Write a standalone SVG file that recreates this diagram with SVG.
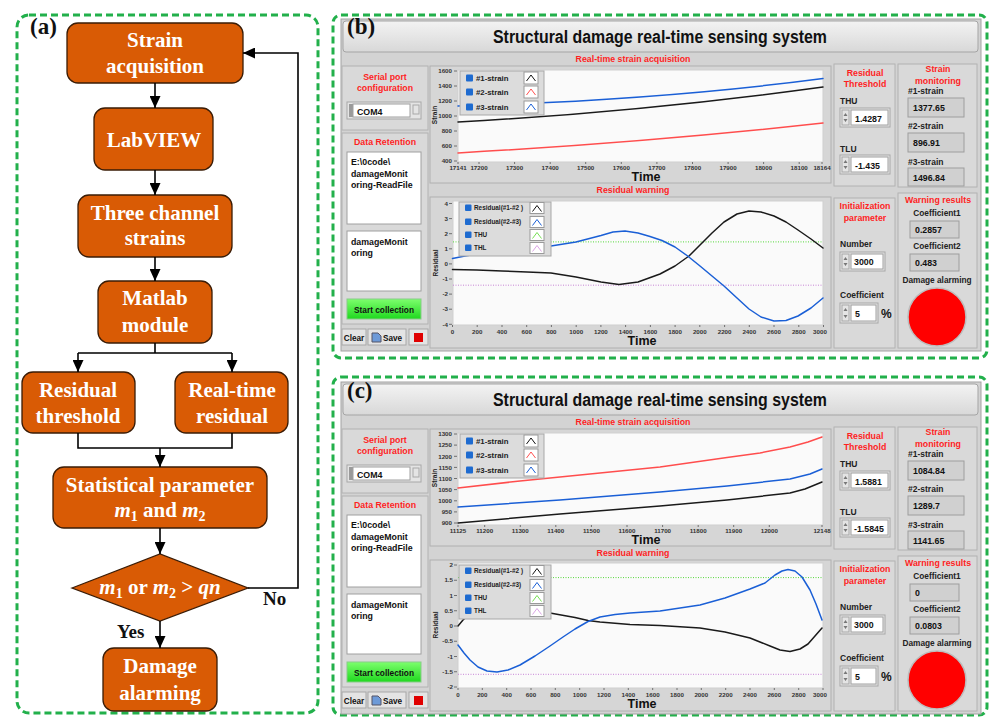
<svg xmlns="http://www.w3.org/2000/svg" width="989" height="718" viewBox="0 0 989 718">
<defs>
<style>
.dash{fill:none;stroke:#22b04b;stroke-width:3;stroke-dasharray:7 4}
.fc{fill:#d95b05;stroke:#3a1c06;stroke-width:1.3}
.ft{font-family:"Liberation Serif","Times New Roman",serif;font-weight:bold;font-size:21px;fill:#fff;text-anchor:middle}
.pl{font-family:"Liberation Serif","Times New Roman",serif;font-weight:bold;font-size:23px;fill:#111}
.yn{font-family:"Liberation Serif","Times New Roman",serif;font-weight:bold;font-size:19px;fill:#111}
.win{fill:#d3d3d3;stroke:#a3a3a3}
.sec{fill:#d9d9d9;stroke:#b2b2b2}
.red{fill:#ff1f1f;font-size:8.8px;text-anchor:middle}
.lb{fill:#222;font-size:8.5px}
.lbm{fill:#222;font-size:8.3px;text-anchor:middle}
.v{fill:#111;font-size:8.8px}
.tx{fill:#333;font-size:6.2px;text-anchor:middle}
.ty{fill:#333;font-size:6.2px;text-anchor:end}
.ax{fill:#222;font-size:6.5px;text-anchor:middle}
.time{fill:#111;font-size:12.5px;text-anchor:middle}
.plot{fill:#fafafa;stroke:#cfcfcf}
.chf{fill:#d6d6d6;stroke:#b0b0b0}
.ind{fill:#d0d0d0;stroke:#9e9e9e}
.ctl{fill:#e4e4e4;stroke:#a8a8a8}
.fld{fill:#fff;stroke:#a0a0a0}
.lgb{fill:#dcdcdc;stroke:#a8a8a8}
.cb{fill:#1e6bd0}
.smp{fill:#fff;stroke:#9a9a9a}
.lg{fill:#222;font-size:7.8px}
.lg2{fill:#222;font-size:6.4px}
.cv{fill:none;stroke-width:1.5;stroke-linejoin:round;stroke-linecap:round}
.tick{stroke:#555;stroke-width:0.8;fill:none}
.arr{fill:#777}
</style>
<marker id="ah" markerUnits="userSpaceOnUse" markerWidth="12" markerHeight="11" refX="12" refY="5.5" orient="auto"><path d="M0,0 L12,5.5 L0,11 z" fill="#000"/></marker>
<linearGradient id="tg" x1="0" y1="0" x2="0" y2="1"><stop offset="0" stop-color="#f3f3f3"/><stop offset="1" stop-color="#d8d8d8"/></linearGradient>
<linearGradient id="gg" x1="0" y1="0" x2="0" y2="1"><stop offset="0" stop-color="#7dff6d"/><stop offset="1" stop-color="#1fd81f"/></linearGradient>
</defs>
<rect width="989" height="718" fill="#fff"/>

<!-- ================= Panel (a) flowchart ================= -->
<g id="panel-a">
<rect class="dash" x="17" y="15" width="301" height="698" rx="12"/>
<text class="pl" x="30" y="34">(a)</text>
</g>
<g id="n-strain-acq"><rect class="fc" x="67" y="23" width="176" height="60" rx="11"/><text class="ft" x="155" y="47">Strain</text><text class="ft" x="155" y="73">acquisition</text></g>
<g id="n-labview"><rect class="fc" x="94" y="108" width="119" height="62" rx="11"/><text class="ft" x="154" y="147">LabVIEW</text></g>
<g id="n-three"><rect class="fc" x="78" y="195" width="154" height="62" rx="11"/><text class="ft" x="155" y="220">Three channel</text><text class="ft" x="155" y="245">strains</text></g>
<g id="n-matlab"><rect class="fc" x="98" y="281" width="114" height="62" rx="11"/><text class="ft" x="155" y="305">Matlab</text><text class="ft" x="155" y="332">module</text></g>
<g id="n-resth"><rect class="fc" x="22" y="372" width="113" height="61" rx="11"/><text class="ft" x="78" y="397">Residual</text><text class="ft" x="78" y="423">threshold</text></g>
<g id="n-rtres"><rect class="fc" x="175" y="372" width="113" height="61" rx="11"/><text class="ft" x="232" y="397">Real-time</text><text class="ft" x="232" y="423">residual</text></g>
<g id="n-stat"><rect class="fc" x="53" y="467" width="214" height="61" rx="11"/><text class="ft" x="160" y="492">Statistical parameter</text><text class="ft" x="160" y="517"><tspan font-style="italic">m</tspan><tspan font-size="14" dy="4">1</tspan><tspan dy="-4"> and </tspan><tspan font-style="italic">m</tspan><tspan font-size="14" dy="4">2</tspan></text></g>
<g id="n-decision"><polygon class="fc" points="72,588 160,554 248,588 160,621"/><text class="ft" x="160" y="594"><tspan font-style="italic">m</tspan><tspan font-size="14" dy="4">1</tspan><tspan dy="-4"> or </tspan><tspan font-style="italic">m</tspan><tspan font-size="14" dy="4">2</tspan><tspan dy="-4"> &gt; </tspan><tspan font-style="italic">qn</tspan></text></g>
<g id="n-damage"><rect class="fc" x="103" y="648" width="114" height="63" rx="11"/><text class="ft" x="160" y="673">Damage</text><text class="ft" x="160" y="700">alarming</text></g>

<g id="connectors" fill="none" stroke="#000" stroke-width="1.6">
<line x1="155" y1="83" x2="155" y2="108" marker-end="url(#ah)"/>
<line x1="155" y1="170" x2="155" y2="195" marker-end="url(#ah)"/>
<line x1="155" y1="257" x2="155" y2="281" marker-end="url(#ah)"/>
<path d="M155,343 V353 M78,353 H232"/>
<line x1="78" y1="353" x2="78" y2="372" marker-end="url(#ah)"/>
<line x1="232" y1="353" x2="232" y2="372" marker-end="url(#ah)"/>
<path d="M78,433 V448 H232 V433"/>
<line x1="160" y1="448" x2="160" y2="467" marker-end="url(#ah)"/>
<line x1="160" y1="528" x2="160" y2="554" marker-end="url(#ah)"/>
<line x1="160" y1="621" x2="160" y2="648" marker-end="url(#ah)"/>
<path d="M248,588 H298 V53 H243" marker-end="url(#ah)"/>
</g>
<text class="yn" x="263" y="605">No</text>
<text class="yn" x="117" y="638">Yes</text>

<!-- ================= Panel frames ================= -->
<rect class="dash" x="333" y="15" width="654" height="343" rx="8"/>
<rect class="dash" x="333" y="377" width="654" height="338" rx="8"/>

<!-- ================= Panel (b) ================= -->
<g id="panel-b" font-family="Liberation Sans, Arial, sans-serif" font-weight="bold">
<rect class="win" x="341" y="19" width="640" height="332"/>
<rect x="343" y="21" width="635" height="31" rx="3" fill="url(#tg)" stroke="#a5a5a5"/>
<text x="493" y="43" font-size="18" fill="#111" textLength="334" lengthAdjust="spacingAndGlyphs">Structural damage real-time sensing system</text>
<text class="pl" x="347" y="34" font-weight="bold">(b)</text>
<rect class="sec" x="342" y="66" width="86" height="64"/>
<text class="red" x="385" y="80">Serial port</text>
<text class="red" x="385" y="91">configuration</text>
<rect class="ctl" x="347" y="102" width="74" height="17"/>
<rect x="349" y="104" width="4" height="13" fill="#9a9a9a"/>
<rect class="fld" x="353" y="104" width="57" height="13"/>
<rect class="ctl" x="413" y="105" width="6" height="9"/>
<text class="v" x="357" y="115">COM4</text>
<rect class="sec" x="342" y="133" width="86" height="191"/>
<text class="red" x="385" y="145">Data Retention</text>
<rect class="fld" x="347" y="152" width="74" height="72"/>
<text class="v" x="351" y="165">E:\0code\</text>
<text class="v" x="351" y="177">damageMonit</text>
<text class="v" x="351" y="188">oring-ReadFile</text>
<rect class="fld" x="347" y="231" width="74" height="60"/>
<text class="v" x="351" y="245">damageMonit</text>
<text class="v" x="351" y="256">oring</text>
<rect x="347" y="299" width="74" height="20" fill="url(#gg)" stroke="#8c8"/>
<text x="384" y="313" font-size="8.3" fill="#111" text-anchor="middle">Start collection</text>
<rect class="ctl" x="342" y="329" width="24" height="16"/>
<text x="354" y="340.5" font-size="8.2" fill="#111" text-anchor="middle">Clear</text>
<rect class="ctl" x="368" y="329" width="38" height="16"/>
<path d="M372,333 h6 l3,3 v6 h-9 z" fill="#6d9ad8" stroke="#556"/>
<text x="383" y="341" font-size="8.2" fill="#111">Save</text>
<rect class="ctl" x="409" y="329" width="19" height="16"/>
<rect x="414" y="333" width="9" height="9" fill="#e00000"/>

<text class="red" x="633" y="62">Real-time strain acquisition</text>
<rect class="chf" x="430" y="66" width="401" height="117"/>
<rect class="plot" x="458" y="70" width="365" height="92"/>
<path class="tick" d="M454,71h3M454,86h3M454,101h3M454,116h3M454,131h3M454,146h3M454,161h3M458,162v2M479,162v2M514.6,162v2M550.2,162v2M585.7,162v2M621.3,162v2M656.9,162v2M692.5,162v2M728.1,162v2M763.6,162v2M799.2,162v2M822,162v2"/>
<text class="ty" x="452" y="73.2">1600</text><text class="ty" x="452" y="88.2">1400</text><text class="ty" x="452" y="103.2">1200</text><text class="ty" x="452" y="118.2">1000</text><text class="ty" x="452" y="133.2">800</text><text class="ty" x="452" y="148.2">600</text><text class="ty" x="452" y="163.2">400</text>
<text class="tx" x="458" y="170">17141</text><text class="tx" x="479" y="170">17200</text><text class="tx" x="514.6" y="170">17300</text><text class="tx" x="550.2" y="170">17400</text><text class="tx" x="585.7" y="170">17500</text><text class="tx" x="621.3" y="170">17600</text><text class="tx" x="656.9" y="170">17700</text><text class="tx" x="692.5" y="170">17800</text><text class="tx" x="728.1" y="170">17900</text><text class="tx" x="763.6" y="170">18000</text><text class="tx" x="799.2" y="170">18100</text><text class="tx" x="822" y="170">18164</text>
<text class="ax" transform="translate(437,115) rotate(-90)">Strain</text>
<text class="time" x="646" y="181">Time</text>
<path class="cv" stroke="#1a5fd6" d="M458,106 Q660,100 823,78.5"/>
<path class="cv" stroke="#1a1a1a" d="M458,122 Q640,112 823,87"/>
<path class="cv" stroke="#ff4d4d" d="M458,153 Q650,142 823,123"/>
<rect class="lgb" x="460" y="71" width="84" height="44"/>
<rect class="cb" x="466" y="74.5" width="7" height="7" rx="1"/><text class="lg" x="476" y="81">#1-strain</text><rect class="smp" x="524" y="72" width="14" height="12"/><path d="M526.5,81 L531,75 L535.5,81" fill="none" stroke="#111"/>
<rect class="cb" x="466" y="88.5" width="7" height="7" rx="1"/><text class="lg" x="476" y="95">#2-strain</text><rect class="smp" x="524" y="86" width="14" height="12"/><path d="M526.5,95 L531,89 L535.5,95" fill="none" stroke="#ff5050"/>
<rect class="cb" x="466" y="103.5" width="7" height="7" rx="1"/><text class="lg" x="476" y="110">#3-strain</text><rect class="smp" x="524" y="101" width="14" height="12"/><path d="M526.5,110 L531,104 L535.5,110" fill="none" stroke="#1a5fd6"/>

<text class="red" x="633" y="193">Residual warning</text>
<rect class="chf" x="430" y="197" width="401" height="151"/>
<rect class="plot" x="453" y="201" width="370" height="124"/>
<path class="tick" d="M449,203.5h3M449,218.6h3M449,233.7h3M449,248.8h3M449,263.9h3M449,279h3M449,294.1h3M449,309.2h3M449,324.3h3M452.5,325v2M477.2,325v2M502,325v2M526.7,325v2M551.4,325v2M576.2,325v2M600.9,325v2M625.6,325v2M650.4,325v2M675.1,325v2M699.8,325v2M724.6,325v2M749.3,325v2M774,325v2M798.8,325v2M823.5,325v2"/>
<text class="ty" x="448" y="205.7">4</text><text class="ty" x="448" y="220.8">3</text><text class="ty" x="448" y="235.9">2</text><text class="ty" x="448" y="251">1</text><text class="ty" x="448" y="266.1">0</text><text class="ty" x="448" y="281.2">-1</text><text class="ty" x="448" y="296.3">-2</text><text class="ty" x="448" y="311.4">-3</text><text class="ty" x="448" y="326.5">-4</text>
<text class="tx" x="452.5" y="334">0</text><text class="tx" x="477.2" y="334">200</text><text class="tx" x="502" y="334">400</text><text class="tx" x="526.7" y="334">600</text><text class="tx" x="551.4" y="334">800</text><text class="tx" x="576.2" y="334">1000</text><text class="tx" x="600.9" y="334">1200</text><text class="tx" x="625.6" y="334">1400</text><text class="tx" x="650.4" y="334">1600</text><text class="tx" x="675.1" y="334">1800</text><text class="tx" x="699.8" y="334">2000</text><text class="tx" x="724.6" y="334">2200</text><text class="tx" x="749.3" y="334">2400</text><text class="tx" x="774" y="334">2600</text><text class="tx" x="798.8" y="334">2800</text><text class="tx" x="820" y="334">3000</text>
<text class="ax" transform="translate(438,263) rotate(-90)">Residual</text>
<text class="time" x="642" y="345">Time</text>
<line x1="453" y1="241.9" x2="823" y2="241.9" stroke="#55d83a" stroke-width="1" stroke-dasharray="1 1.5"/>
<line x1="453" y1="285.2" x2="823" y2="285.2" stroke="#c783d6" stroke-width="1" stroke-dasharray="1 1.5"/>
<polyline class="cv" stroke="#1a1a1a" points="452.5,269.5 477,270 502,271 527,272 551,273 576,277 601,282 619,284.5 638,282 660,274 675,266 689,256 700,245 712,233 724,222 737,214 749,211 761,212 774,216 786,222 798,230 811,239 823,248"/>
<polyline class="cv" stroke="#1a5fd6" points="452.5,258.5 465,256 477,254 490,252.5 502,251 514,250 527,248.5 551,246 576,242 601,235.5 613,232 625,231 638,233 650,236.5 662,240.5 675,247 687,255.5 700,266 712,276 724,286 737,298 749,309 761,317 774,321 786,320.5 798,316 811,308 823,298"/>
<rect class="lgb" x="459" y="202" width="92" height="54"/>
<rect class="cb" x="465" y="204.5" width="6.5" height="6.5" rx="1"/><text class="lg2" x="474" y="210.3">Residual(#1-#2 )</text><rect class="smp" x="530" y="202.5" width="14" height="11"/><path d="M532.5,211.5 L537,205.5 L541.5,211.5" fill="none" stroke="#111"/>
<rect class="cb" x="465" y="218.5" width="6.5" height="6.5" rx="1"/><text class="lg2" x="474" y="224.3">Residual(#2-#3)</text><rect class="smp" x="530" y="216.5" width="14" height="11"/><path d="M532.5,225.5 L537,219.5 L541.5,225.5" fill="none" stroke="#1a5fd6"/>
<rect class="cb" x="465" y="231.5" width="6.5" height="6.5" rx="1"/><text class="lg2" x="474" y="237.3">THU</text><rect class="smp" x="530" y="229.5" width="14" height="11"/><path d="M532.5,238.5 L537,232.5 L541.5,238.5" fill="none" stroke="#77e055"/>
<rect class="cb" x="465" y="244.5" width="6.5" height="6.5" rx="1"/><text class="lg2" x="474" y="250.3">THL</text><rect class="smp" x="530" y="242.5" width="14" height="11"/><path d="M532.5,251.5 L537,245.5 L541.5,251.5" fill="none" stroke="#dba6e6"/>

<rect class="sec" x="834" y="64" width="61" height="122"/>
<text class="red" x="865" y="76">Residual</text>
<text class="red" x="865" y="87">Threshold</text>
<text class="lb" x="840" y="104">THU</text>
<rect class="ctl" x="840" y="108" width="50" height="19"/><rect class="ctl" x="842" y="110" width="7" height="15"/><path class="arr" d="M843.5,116 l2,-3 l2,3 z M843.5,119 l2,3 l2,-3 z"/><rect class="fld" x="851" y="110" width="37" height="15"/>
<text class="v" x="855" y="121.5">1.4287</text>
<text class="lb" x="840" y="152">TLU</text>
<rect class="ctl" x="840" y="155" width="50" height="19"/><rect class="ctl" x="842" y="157" width="7" height="15"/><path class="arr" d="M843.5,163 l2,-3 l2,3 z M843.5,166 l2,3 l2,-3 z"/><rect class="fld" x="851" y="157" width="37" height="15"/>
<text class="v" x="855" y="168.5">-1.435</text>
<rect class="sec" x="898" y="64" width="79" height="123"/>
<text class="red" x="938" y="72">Strain</text>
<text class="red" x="938" y="84">monitoring</text>
<text class="lb" x="908" y="94">#1-strain</text>
<rect class="ind" x="908" y="98" width="56" height="19"/>
<text class="v" x="913" y="111">1377.65</text>
<text class="lb" x="908" y="129">#2-strain</text>
<rect class="ind" x="908" y="133" width="56" height="19"/>
<text class="v" x="913" y="146">896.91</text>
<text class="lb" x="908" y="165">#3-strain</text>
<rect class="ind" x="908" y="168" width="56" height="18"/>
<text class="v" x="913" y="181">1496.84</text>

<rect class="sec" x="834" y="198" width="61" height="150"/>
<text class="red" x="865" y="209">Initialization</text>
<text class="red" x="865" y="221">parameter</text>
<text class="lb" x="840" y="247">Number</text>
<rect class="ctl" x="840" y="252" width="45" height="19"/><rect class="ctl" x="842" y="254" width="7" height="15"/><path class="arr" d="M843.5,260 l2,-3 l2,3 z M843.5,263 l2,3 l2,-3 z"/><rect class="fld" x="851" y="254" width="32" height="15"/>
<text class="v" x="854" y="265">3000</text>
<text class="lb" x="840" y="298">Coefficient</text>
<rect class="ctl" x="840" y="303" width="38" height="20"/><rect class="ctl" x="842" y="305" width="7" height="16"/><path class="arr" d="M843.5,311 l2,-3 l2,3 z M843.5,315 l2,3 l2,-3 z"/><rect class="fld" x="851" y="305" width="25" height="16"/>
<text class="v" x="855" y="317">5</text>
<text x="881" y="318" font-size="12" fill="#111">%</text>
<rect class="sec" x="898" y="193" width="79" height="155"/>
<text class="red" x="938" y="203">Warning results</text>
<text class="lbm" x="937" y="216">Coefficient1</text>
<rect class="ind" x="910" y="221" width="49" height="17"/>
<text class="v" x="915" y="233">0.2857</text>
<text class="lbm" x="937" y="249">Coefficient2</text>
<rect class="ind" x="910" y="254" width="49" height="17"/>
<text class="v" x="915" y="266">0.483</text>
<text class="lbm" x="937" y="283" font-size="8.8">Damage alarming</text>
<circle cx="937" cy="317" r="29" fill="#ff0000" stroke="#bdbdbd" stroke-width="1.5"/>
</g>

<!-- ================= Panel (c) ================= -->
<g id="panel-c" font-family="Liberation Sans, Arial, sans-serif" font-weight="bold" transform="translate(0,363)">
<rect class="win" x="341" y="19" width="640" height="332"/>
<rect x="343" y="21" width="635" height="31" rx="3" fill="url(#tg)" stroke="#a5a5a5"/>
<text x="493" y="43" font-size="18" fill="#111" textLength="334" lengthAdjust="spacingAndGlyphs">Structural damage real-time sensing system</text>
<text class="pl" x="347" y="35" font-weight="bold">(c)</text>
<rect class="sec" x="342" y="66" width="86" height="64"/>
<text class="red" x="385" y="80">Serial port</text>
<text class="red" x="385" y="91">configuration</text>
<rect class="ctl" x="347" y="102" width="74" height="17"/>
<rect x="349" y="104" width="4" height="13" fill="#9a9a9a"/>
<rect class="fld" x="353" y="104" width="57" height="13"/>
<rect class="ctl" x="413" y="105" width="6" height="9"/>
<text class="v" x="357" y="115">COM4</text>
<rect class="sec" x="342" y="133" width="86" height="191"/>
<text class="red" x="385" y="145">Data Retention</text>
<rect class="fld" x="347" y="152" width="74" height="72"/>
<text class="v" x="351" y="165">E:\0code\</text>
<text class="v" x="351" y="177">damageMonit</text>
<text class="v" x="351" y="188">oring-ReadFile</text>
<rect class="fld" x="347" y="231" width="74" height="60"/>
<text class="v" x="351" y="245">damageMonit</text>
<text class="v" x="351" y="256">oring</text>
<rect x="347" y="299" width="74" height="20" fill="url(#gg)" stroke="#8c8"/>
<text x="384" y="313" font-size="8.3" fill="#111" text-anchor="middle">Start collection</text>
<rect class="ctl" x="342" y="329" width="24" height="16"/>
<text x="354" y="340.5" font-size="8.2" fill="#111" text-anchor="middle">Clear</text>
<rect class="ctl" x="368" y="329" width="38" height="16"/>
<path d="M372,333 h6 l3,3 v6 h-9 z" fill="#6d9ad8" stroke="#556"/>
<text x="383" y="341" font-size="8.2" fill="#111">Save</text>
<rect class="ctl" x="409" y="329" width="19" height="16"/>
<rect x="414" y="333" width="9" height="9" fill="#e00000"/>

<text class="red" x="633" y="62">Real-time strain acquisition</text>
<rect class="chf" x="430" y="66" width="401" height="117"/>
<rect class="plot" x="458" y="70" width="365" height="92"/>
<path class="tick" d="M454,71h3M454,82.1h3M454,93.3h3M454,104.4h3M454,115.5h3M454,126.6h3M454,137.8h3M454,148.9h3M454,160h3M458,162v2M484.7,162v2M520.3,162v2M555.8,162v2M591.4,162v2M627,162v2M662.6,162v2M698.2,162v2M733.7,162v2M769.3,162v2M822,162v2"/>
<text class="ty" x="452" y="73.2">1300</text><text class="ty" x="452" y="84.3">1250</text><text class="ty" x="452" y="95.5">1200</text><text class="ty" x="452" y="106.6">1150</text><text class="ty" x="452" y="117.7">1100</text><text class="ty" x="452" y="128.8">1050</text><text class="ty" x="452" y="140">1000</text><text class="ty" x="452" y="151.1">950</text><text class="ty" x="452" y="162.2">900</text>
<text class="tx" x="458" y="170">11125</text><text class="tx" x="484.7" y="170">11200</text><text class="tx" x="520.3" y="170">11300</text><text class="tx" x="555.8" y="170">11400</text><text class="tx" x="591.4" y="170">11500</text><text class="tx" x="627" y="170">11600</text><text class="tx" x="662.6" y="170">11700</text><text class="tx" x="698.2" y="170">11800</text><text class="tx" x="733.7" y="170">11900</text><text class="tx" x="769.3" y="170">12000</text><text class="tx" x="822" y="170">12148</text>
<text class="ax" transform="translate(437,115) rotate(-90)">Strain</text>
<text class="time" x="646" y="181">Time</text>
<polyline class="cv" stroke="#ff4d4d" points="458,125 520,118 580,112 660,104 727,94.5 760,90 790,84 808,79 822,74"/>
<polyline class="cv" stroke="#1a5fd6" points="458,144 560,137 660,129 727,123 790,116 810,111 822,106"/>
<polyline class="cv" stroke="#1a1a1a" points="458,160 560,151 660,143 727,137 790,130 805,126 822,119"/>
<rect class="lgb" x="460" y="71" width="84" height="44"/>
<rect class="cb" x="466" y="74.5" width="7" height="7" rx="1"/><text class="lg" x="476" y="81">#1-strain</text><rect class="smp" x="524" y="72" width="14" height="12"/><path d="M526.5,81 L531,75 L535.5,81" fill="none" stroke="#111"/>
<rect class="cb" x="466" y="88.5" width="7" height="7" rx="1"/><text class="lg" x="476" y="95">#2-strain</text><rect class="smp" x="524" y="86" width="14" height="12"/><path d="M526.5,95 L531,89 L535.5,95" fill="none" stroke="#ff5050"/>
<rect class="cb" x="466" y="103.5" width="7" height="7" rx="1"/><text class="lg" x="476" y="110">#3-strain</text><rect class="smp" x="524" y="101" width="14" height="12"/><path d="M526.5,110 L531,104 L535.5,110" fill="none" stroke="#1a5fd6"/>

<text class="red" x="633" y="193">Residual warning</text>
<rect class="chf" x="430" y="197" width="401" height="151"/>
<rect class="plot" x="458" y="200" width="365" height="125"/>
<path class="tick" d="M454,202h3M454,217.25h3M454,232.5h3M454,247.75h3M454,263h3M454,278.25h3M454,293.5h3M454,308.75h3M454,324h3M458,325v2M482.3,325v2M506.7,325v2M531,325v2M555.3,325v2M579.7,325v2M604,325v2M628.3,325v2M652.7,325v2M677,325v2M701.3,325v2M725.7,325v2M750,325v2M774.3,325v2M798.7,325v2M823,325v2"/>
<text class="ty" x="453" y="204.2">2</text><text class="ty" x="453" y="219.4">1.5</text><text class="ty" x="453" y="234.7">1</text><text class="ty" x="453" y="249.9">0.5</text><text class="ty" x="453" y="265.2">0</text><text class="ty" x="453" y="280.4">-0.5</text><text class="ty" x="453" y="295.7">-1</text><text class="ty" x="453" y="310.9">-1.5</text><text class="ty" x="453" y="326.2">-2</text>
<text class="tx" x="458" y="334">0</text><text class="tx" x="482.3" y="334">200</text><text class="tx" x="506.7" y="334">400</text><text class="tx" x="531" y="334">600</text><text class="tx" x="555.3" y="334">800</text><text class="tx" x="579.7" y="334">1000</text><text class="tx" x="604" y="334">1200</text><text class="tx" x="628.3" y="334">1400</text><text class="tx" x="652.7" y="334">1600</text><text class="tx" x="677" y="334">1800</text><text class="tx" x="701.3" y="334">2000</text><text class="tx" x="725.7" y="334">2200</text><text class="tx" x="750" y="334">2400</text><text class="tx" x="774.3" y="334">2600</text><text class="tx" x="798.7" y="334">2800</text><text class="tx" x="820" y="334">3000</text>
<text class="ax" transform="translate(438,262) rotate(-90)">Residual</text>
<text class="time" x="642" y="345">Time</text>
<line x1="458" y1="214.6" x2="823" y2="214.6" stroke="#55d83a" stroke-width="1" stroke-dasharray="1 1.5"/>
<line x1="458" y1="311.3" x2="823" y2="311.3" stroke="#c783d6" stroke-width="1" stroke-dasharray="1 1.5"/>
<polyline class="cv" stroke="#1a1a1a" points="458,263 463,257 470,251 480,247 495,245 520,246 550,250 575,254.5 588,257.5 600,259 630,261.5 660,262.5 700,265 725,269 750,275 770,283 780,287 790,288.5 800,286 808,281 815,273 822,265"/>
<polyline class="cv" stroke="#1a5fd6" points="458,282 464,290 470,297 478,304 487,308 497,309 508,307 520,302 535,293 550,283 563,274 575,266 588,258.5 600,254 615,251.5 630,250 660,248 700,242 725,235 750,226 765,220 775,212 782,208 788,206.5 795,208 802,214 810,227 816,241 822,257"/>
<rect class="lgb" x="459" y="202" width="92" height="54"/>
<rect class="cb" x="465" y="204.5" width="6.5" height="6.5" rx="1"/><text class="lg2" x="474" y="210.3">Residual(#1-#2 )</text><rect class="smp" x="530" y="202.5" width="14" height="11"/><path d="M532.5,211.5 L537,205.5 L541.5,211.5" fill="none" stroke="#111"/>
<rect class="cb" x="465" y="218.5" width="6.5" height="6.5" rx="1"/><text class="lg2" x="474" y="224.3">Residual(#2-#3)</text><rect class="smp" x="530" y="216.5" width="14" height="11"/><path d="M532.5,225.5 L537,219.5 L541.5,225.5" fill="none" stroke="#1a5fd6"/>
<rect class="cb" x="465" y="231.5" width="6.5" height="6.5" rx="1"/><text class="lg2" x="474" y="237.3">THU</text><rect class="smp" x="530" y="229.5" width="14" height="11"/><path d="M532.5,238.5 L537,232.5 L541.5,238.5" fill="none" stroke="#77e055"/>
<rect class="cb" x="465" y="244.5" width="6.5" height="6.5" rx="1"/><text class="lg2" x="474" y="250.3">THL</text><rect class="smp" x="530" y="242.5" width="14" height="11"/><path d="M532.5,251.5 L537,245.5 L541.5,251.5" fill="none" stroke="#dba6e6"/>

<rect class="sec" x="834" y="64" width="61" height="122"/>
<text class="red" x="865" y="76">Residual</text>
<text class="red" x="865" y="87">Threshold</text>
<text class="lb" x="840" y="104">THU</text>
<rect class="ctl" x="840" y="108" width="50" height="19"/><rect class="ctl" x="842" y="110" width="7" height="15"/><path class="arr" d="M843.5,116 l2,-3 l2,3 z M843.5,119 l2,3 l2,-3 z"/><rect class="fld" x="851" y="110" width="37" height="15"/>
<text class="v" x="855" y="121.5">1.5881</text>
<text class="lb" x="840" y="152">TLU</text>
<rect class="ctl" x="840" y="155" width="50" height="19"/><rect class="ctl" x="842" y="157" width="7" height="15"/><path class="arr" d="M843.5,163 l2,-3 l2,3 z M843.5,166 l2,3 l2,-3 z"/><rect class="fld" x="851" y="157" width="37" height="15"/>
<text class="v" x="854" y="168.5">-1.5845</text>
<rect class="sec" x="898" y="64" width="79" height="123"/>
<text class="red" x="938" y="72">Strain</text>
<text class="red" x="938" y="84">monitoring</text>
<text class="lb" x="908" y="94">#1-strain</text>
<rect class="ind" x="908" y="98" width="56" height="19"/>
<text class="v" x="913" y="111">1084.84</text>
<text class="lb" x="908" y="129">#2-strain</text>
<rect class="ind" x="908" y="133" width="56" height="19"/>
<text class="v" x="913" y="146">1289.7</text>
<text class="lb" x="908" y="165">#3-strain</text>
<rect class="ind" x="908" y="168" width="56" height="18"/>
<text class="v" x="913" y="181">1141.65</text>

<rect class="sec" x="834" y="198" width="61" height="150"/>
<text class="red" x="865" y="209">Initialization</text>
<text class="red" x="865" y="221">parameter</text>
<text class="lb" x="840" y="247">Number</text>
<rect class="ctl" x="840" y="252" width="45" height="19"/><rect class="ctl" x="842" y="254" width="7" height="15"/><path class="arr" d="M843.5,260 l2,-3 l2,3 z M843.5,263 l2,3 l2,-3 z"/><rect class="fld" x="851" y="254" width="32" height="15"/>
<text class="v" x="854" y="265">3000</text>
<text class="lb" x="840" y="298">Coefficient</text>
<rect class="ctl" x="840" y="303" width="38" height="20"/><rect class="ctl" x="842" y="305" width="7" height="16"/><path class="arr" d="M843.5,311 l2,-3 l2,3 z M843.5,315 l2,3 l2,-3 z"/><rect class="fld" x="851" y="305" width="25" height="16"/>
<text class="v" x="855" y="317">5</text>
<text x="881" y="318" font-size="12" fill="#111">%</text>
<rect class="sec" x="898" y="193" width="79" height="155"/>
<text class="red" x="938" y="203">Warning results</text>
<text class="lbm" x="937" y="216">Coefficient1</text>
<rect class="ind" x="910" y="221" width="49" height="17"/>
<text class="v" x="915" y="233">0</text>
<text class="lbm" x="937" y="249">Coefficient2</text>
<rect class="ind" x="910" y="254" width="49" height="17"/>
<text class="v" x="915" y="266">0.0803</text>
<text class="lbm" x="937" y="283" font-size="8.8">Damage alarming</text>
<circle cx="937" cy="317" r="29" fill="#ff0000" stroke="#bdbdbd" stroke-width="1.5"/>
</g>
</svg>
